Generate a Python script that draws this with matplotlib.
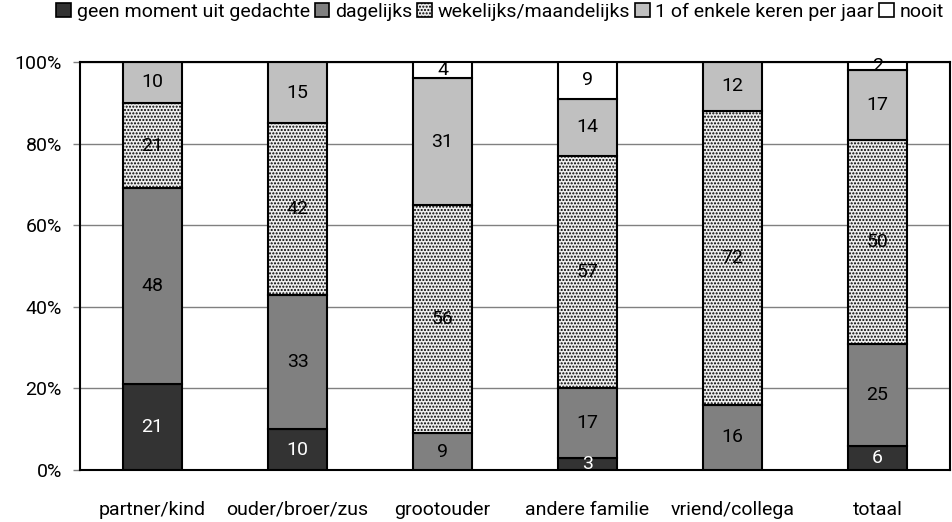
import matplotlib
matplotlib.use("Agg")
import matplotlib.pyplot as plt
from matplotlib.patches import Patch
import numpy as np

plt.rcParams['font.family'] = ['Roboto', 'DejaVu Sans']
plt.rcParams['hatch.linewidth'] = 1.0

categories = ['partner/kind', 'ouder/broer/zus', 'grootouder', 'andere familie', 'vriend/collega', 'totaal']
series_names = ['geen moment uit gedachte', 'dagelijks', 'wekelijks/maandelijks',
                '1 of enkele keren per jaar', 'nooit']
geen_moment = [21, 10, 0, 3, 0, 6]
dagelijks = [48, 33, 9, 17, 16, 25]
wekelijks = [21, 42, 56, 57, 72, 50]
jaarlijks = [10, 15, 31, 14, 12, 17]
nooit = [0, 0, 4, 9, 0, 2]
y_ticks = [0, 20, 40, 60, 80, 100]
y_ticklabels = ['0%', '20%', '40%', '60%', '80%', '100%']

series = [geen_moment, dagelijks, wekelijks, jaarlijks, nooit]
colors = ['#333333', '#808080', '#eeeeee', '#c0c0c0', '#ffffff']
hatches = [None, None, '.....', None, None]
text_colors = ['white', 'black', 'black', 'black', 'black']
FS = 14

fig = plt.figure(figsize=(9.52, 5.22), dpi=100)
ax = fig.add_axes([80/952, 52/522, 870/952, 408/522])

x = np.arange(len(categories))
bottom = np.zeros(len(categories))
for vals, c, h, tc in zip(series, colors, hatches, text_colors):
    vals = np.array(vals, dtype=float)
    ax.bar(x, vals, width=0.41, bottom=bottom, color=c, edgecolor='black',
           linewidth=1.5, hatch=h, zorder=3)
    for xi, v, b in zip(x, vals, bottom):
        if v > 0:
            ax.text(xi, b + v / 2, f'{int(v)}', ha='center', va='center',
                    color=tc, fontsize=FS, zorder=5)
    bottom += vals

ax.set_xlim(-0.5, len(categories) - 0.5)
ax.set_ylim(0, 100)
ax.set_yticks(y_ticks)
ax.set_yticklabels(y_ticklabels, fontsize=FS)
ax.set_xticks(x)
ax.set_xticklabels(categories, fontsize=FS)
ax.tick_params(axis='x', length=0, pad=22)
ax.tick_params(axis='y', length=5, width=1, color='gray', pad=8)
ax.yaxis.grid(True, color='gray', linewidth=1, zorder=0)
for s in ax.spines.values():
    s.set_linewidth(1.5)
    s.set_color('black')

handles = [Patch(facecolor=c, edgecolor='black', hatch=h, linewidth=1.2)
           for c, h in zip(colors, hatches)]
fig.legend(handles, series_names, loc='upper center', bbox_to_anchor=(500/952, 1.01),
           ncol=5, frameon=False, fontsize=FS, handlelength=0.75, handleheight=0.75,
           handletextpad=0.3, columnspacing=0.25, borderaxespad=0)

fig.savefig('out.png', dpi=100)
